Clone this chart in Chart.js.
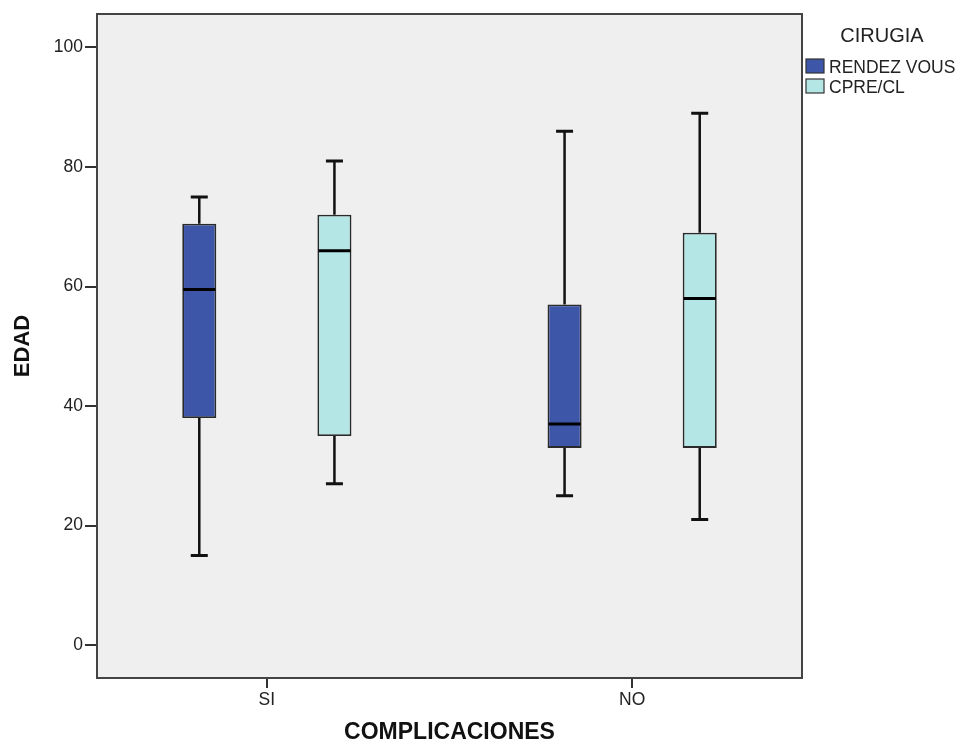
<!DOCTYPE html>
<html>
<head>
<meta charset="utf-8">
<script src="https://cdn.jsdelivr.net/npm/chart.js@4.4.1/dist/chart.umd.min.js"></script>
<style>
  html, body { margin: 0; padding: 0; background: #ffffff; }
  #wrap { position: relative; width: 957px; height: 744px; }
</style>
</head>
<body>
<div id="wrap"><canvas id="c" width="957" height="744"></canvas></div>
<script>
// ---- data ----
const categories = ['SI', 'NO'];
const seriesNames = ['RENDEZ VOUS', 'CPRE/CL'];
const legendTitle = 'CIRUGIA';
const xTitle = 'COMPLICACIONES';
const yTitle = 'EDAD';
const yTicks = [0, 20, 40, 60, 80, 100];

const rendezMin    = [15, 25];
const rendezQ1     = [38, 33];
const rendezMedian = [59.5, 37];
const rendezQ3     = [70.5, 57];
const rendezMax    = [75, 86];

const cpreMin    = [27, 21];
const cpreQ1     = [35, 33];
const cpreMedian = [66, 58];
const cpreQ3     = [72, 69];
const cpreMax    = [81, 89];

const seriesColors = ['#3e56a8', '#b4e6e6'];

function makeDataset(name, color, mn, q1, med, q3, mx) {
  return {
    label: name,
    data: categories.map((c, i) => ({ x: i + 1, y: [q1[i], q3[i]] })),
    backgroundColor: color,
    borderColor: '#2a2a2a',
    borderWidth: 1.8,
    borderSkipped: false,
    categoryPercentage: 0.74,
    barPercentage: 0.252,
    whiskerMin: mn,
    whiskerMax: mx,
    median: med
  };
}

const datasets = [
  makeDataset(seriesNames[0], seriesColors[0], rendezMin, rendezQ1, rendezMedian, rendezQ3, rendezMax),
  makeDataset(seriesNames[1], seriesColors[1], cpreMin, cpreQ1, cpreMedian, cpreQ3, cpreMax)
];

const boxPlugin = {
  id: 'boxPlugin',
  beforeDatasetsDraw(chart) {
    const { ctx, chartArea: a } = chart;
    ctx.save();
    ctx.fillStyle = '#efefef';
    ctx.fillRect(a.left, a.top, a.right - a.left, a.bottom - a.top);
    const ys = chart.scales.y;
    chart.data.datasets.forEach((ds, d) => {
      const meta = chart.getDatasetMeta(d);
      meta.data.forEach((bar, i) => {
        const x = bar.x;
        const capHalf = 8.5;
        ctx.strokeStyle = '#111111';
        ctx.lineWidth = 2.5;
        const yMax = ys.getPixelForValue(ds.whiskerMax[i]);
        const yQ3 = ys.getPixelForValue(ds.data[i].y[1]);
        const yQ1 = ys.getPixelForValue(ds.data[i].y[0]);
        const yMin = ys.getPixelForValue(ds.whiskerMin[i]);
        ctx.beginPath();
        ctx.moveTo(x, yMax); ctx.lineTo(x, yQ3);
        ctx.moveTo(x, yQ1); ctx.lineTo(x, yMin);
        ctx.stroke();
        ctx.lineWidth = 3;
        ctx.beginPath();
        ctx.moveTo(x - capHalf, yMax); ctx.lineTo(x + capHalf, yMax);
        ctx.moveTo(x - capHalf, yMin); ctx.lineTo(x + capHalf, yMin);
        ctx.stroke();
      });
    });
    ctx.restore();
  },
  afterDatasetsDraw(chart) {
    const { ctx } = chart;
    const ys = chart.scales.y;
    ctx.save();
    chart.data.datasets.forEach((ds, d) => {
      const meta = chart.getDatasetMeta(d);
      meta.data.forEach((bar, i) => {
        const half = bar.width / 2 - 1;
        const ym = ys.getPixelForValue(ds.median[i]);
        ctx.strokeStyle = '#000000';
        ctx.lineWidth = 3;
        ctx.beginPath();
        ctx.moveTo(bar.x - half, ym); ctx.lineTo(bar.x + half, ym);
        ctx.stroke();
      });
    });
    ctx.restore();
  },
  afterDraw(chart) {
    const { ctx, chartArea: a } = chart;
    ctx.save();
    ctx.strokeStyle = '#444444';
    ctx.lineWidth = 2;
    ctx.strokeRect(a.left, a.top, a.right - a.left, a.bottom - a.top);
    ctx.fillStyle = '#222222';
    ctx.textBaseline = 'alphabetic';
    ctx.textAlign = 'center';
    ctx.font = '20px "Liberation Sans", Arial, sans-serif';
    ctx.fillText(legendTitle, 882, 41.5);
    ctx.textAlign = 'left';
    ctx.font = '17.5px "Liberation Sans", Arial, sans-serif';
    chart.data.datasets.forEach((ds, d) => {
      const top = 59 + d * 20;
      ctx.fillStyle = ds.backgroundColor;
      ctx.fillRect(806, top, 18, 14);
      ctx.strokeStyle = '#333333';
      ctx.lineWidth = 1.2;
      ctx.strokeRect(806, top, 18, 14);
      ctx.fillStyle = '#222222';
      ctx.fillText(ds.label, 829, top + 14);
    });
    ctx.restore();
  }
};

new Chart(document.getElementById('c'), {
  type: 'bar',
  data: { datasets: datasets },
  plugins: [boxPlugin],
  options: {
    responsive: false,
    animation: false,
    layout: { padding: { left: 0, right: 155, top: 14, bottom: 0 } },
    plugins: { legend: { display: false }, tooltip: { enabled: false } },
    scales: {
      x: {
        type: 'linear',
        offset: false,
        min: 0.535,
        max: 2.465,
        afterBuildTicks: (s) => { s.ticks = categories.map((c, i) => ({ value: i + 1 })); },
        afterFit: (s) => { s.height = 66; },
        grid: { offset: false, drawOnChartArea: false, drawTicks: true, tickLength: 10, color: '#333333', lineWidth: 2 },
        border: { display: false },
        ticks: {
          callback: (v) => categories[v - 1],
          color: '#222222',
          padding: 2,
          maxRotation: 0,
          autoSkip: false,
          font: { family: '"Liberation Sans", Arial, sans-serif', size: 17.5 }
        },
        title: {
          display: true,
          text: xTitle,
          color: '#111111',
          padding: { top: 0, bottom: 0 },
          font: { family: '"Liberation Sans", Arial, sans-serif', size: 23, weight: 'bold', lineHeight: 1 }
        }
      },
      y: {
        type: 'linear',
        min: -5.5,
        max: 105.6,
        afterBuildTicks: (s) => { s.ticks = yTicks.map(v => ({ value: v })); },
        afterFit: (s) => { s.width = 97; },
        grid: { drawOnChartArea: false, drawTicks: true, tickLength: 12, color: '#333333', lineWidth: 2 },
        border: { display: false },
        ticks: {
          color: '#222222',
          padding: 2,
          font: { family: '"Liberation Sans", Arial, sans-serif', size: 17.5 }
        },
        title: {
          display: true,
          text: yTitle,
          color: '#111111',
          padding: { top: 10, bottom: 0 },
          font: { family: '"Liberation Sans", Arial, sans-serif', size: 22, weight: 'bold', lineHeight: 1.2 }
        }
      }
    }
  }
});
</script>
</body>
</html>
